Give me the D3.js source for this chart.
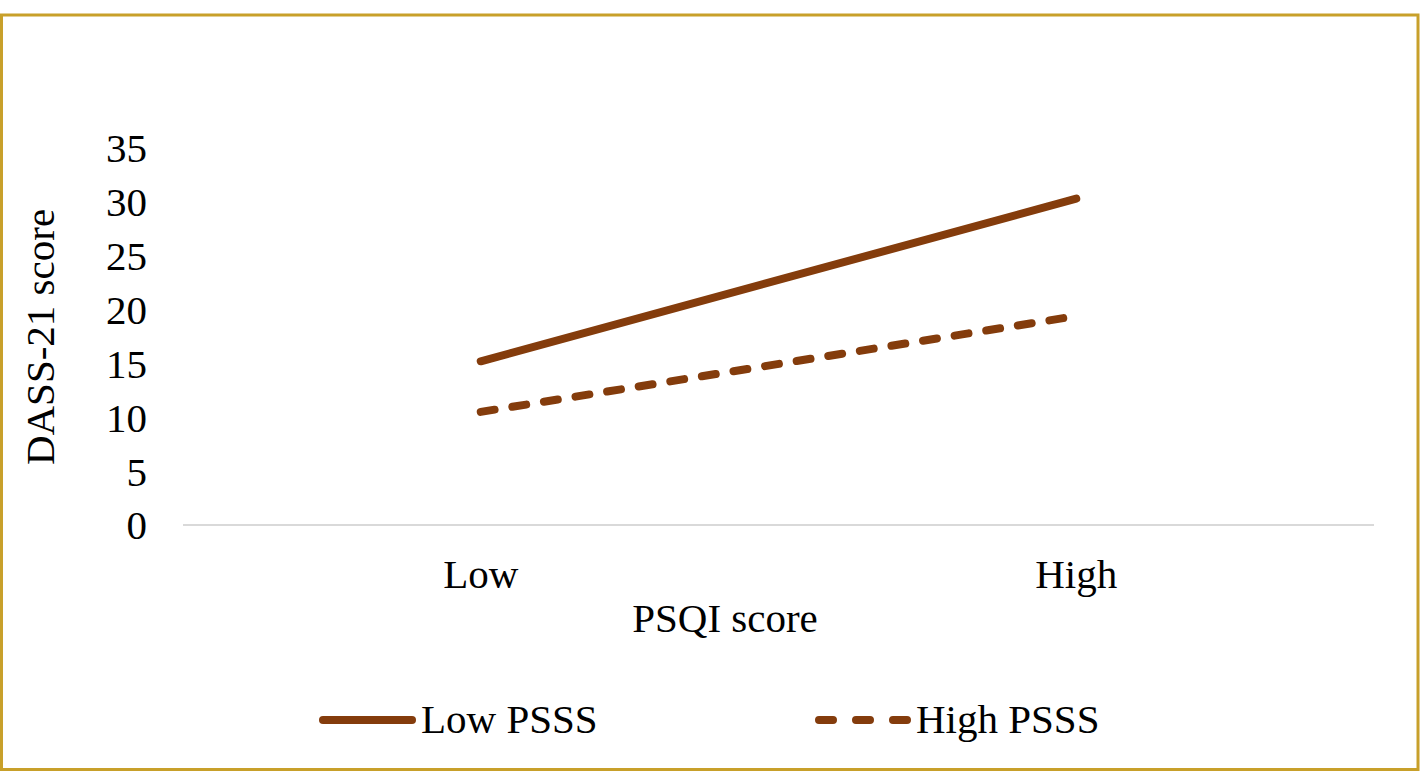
<!DOCTYPE html>
<html>
<head>
<meta charset="utf-8">
<script src="https://cdn.jsdelivr.net/npm/d3@7"></script>
<style>
  html, body { margin: 0; padding: 0; background: #fff; }
  svg { display: block; }
  text { font-family: "Liberation Serif", "Times New Roman", serif; fill: #000; }
</style>
</head>
<body>
<svg id="chart" width="1424" height="772"></svg>
<script>
const categories = ["Low", "High"];
const seriesNames = ["Low PSSS", "High PSSS"];
const lowPSSS = [15.2, 30.3];
const highPSSS = [10.5, 19.4];
const yTicks = [0, 5, 10, 15, 20, 25, 30, 35];
const xTitle = "PSQI score";
const yTitle = "DASS-21 score";

const series = [
  { name: seriesNames[0], values: lowPSSS, dash: null },
  { name: seriesNames[1], values: highPSSS, dash: "14,18" }
];

const W = 1424, H = 772;
const color = "#843C0C";
const fontSize = 41;
const svg = d3.select("#chart");

svg.append("rect").attr("x", 0).attr("y", 0).attr("width", W).attr("height", H).attr("fill", "#fff");
svg.append("rect")
  .attr("x", 1.5).attr("y", 15).attr("width", 1416.5).attr("height", 754.5)
  .attr("fill", "none").attr("stroke", "#C8A02A").attr("stroke-width", 3);

const plotL = 183, plotR = 1374, plotT = 148, plotB = 525;

const x = d3.scaleBand().domain(categories).range([plotL, plotR]).padding(0);
const y = d3.scaleLinear().domain([0, 35]).range([plotB, plotT]);

// baseline
svg.append("line")
  .attr("x1", plotL).attr("x2", plotR)
  .attr("y1", y(0)).attr("y2", y(0))
  .attr("stroke", "#d9d9d9").attr("stroke-width", 2);

// y axis
const yAxis = d3.axisLeft(y).tickValues(yTicks).tickSize(0).tickPadding(0).tickFormat(d3.format("d"));
const yg = svg.append("g").attr("transform", `translate(147,0)`).call(yAxis);
yg.select(".domain").remove();
yg.selectAll("text").style("font-size", fontSize + "px")
  .style("font-family", '"Liberation Serif", serif').attr("fill", "#000").attr("dy", "0.34em");

// x axis labels
const xAxis = d3.axisBottom(x).tickSize(0).tickPadding(0);
const xg = svg.append("g").attr("transform", `translate(0,${plotB})`).call(xAxis);
xg.select(".domain").remove();
xg.selectAll("text").style("font-size", fontSize + "px")
  .style("font-family", '"Liberation Serif", serif').attr("fill", "#000")
  .attr("y", 63).attr("dy", 0);

// titles
svg.append("text").attr("x", 725).attr("y", 632).attr("text-anchor", "middle")
  .style("font-size", fontSize + "px").text(xTitle);
svg.append("text").attr("transform", "translate(54,337) rotate(-90)").attr("text-anchor", "middle")
  .style("font-size", fontSize + "px").text(yTitle);

// lines
const line = d3.line()
  .x((d, i) => x(categories[i]) + x.bandwidth() / 2)
  .y(d => y(d));

series.forEach(s => {
  const p = svg.append("path")
    .attr("d", line(s.values))
    .attr("fill", "none")
    .attr("stroke", color)
    .attr("stroke-width", 8)
    .attr("stroke-linecap", "round");
  if (s.dash) p.attr("stroke-dasharray", s.dash);
});

// legend
const legendItems = [
  { x1: 323, x2: 412, tx: 421 },
  { x1: 819, x2: 907, tx: 916 }
];
series.forEach((s, i) => {
  const li = legendItems[i];
  const l = svg.append("line")
    .attr("x1", li.x1).attr("x2", li.x2).attr("y1", 720).attr("y2", 720)
    .attr("stroke", color).attr("stroke-width", 8).attr("stroke-linecap", "round");
  if (s.dash) l.attr("stroke-dasharray", "14,23");
  svg.append("text").attr("x", li.tx).attr("y", 733)
    .style("font-size", fontSize + "px").text(s.name);
});
</script>
</body>
</html>
